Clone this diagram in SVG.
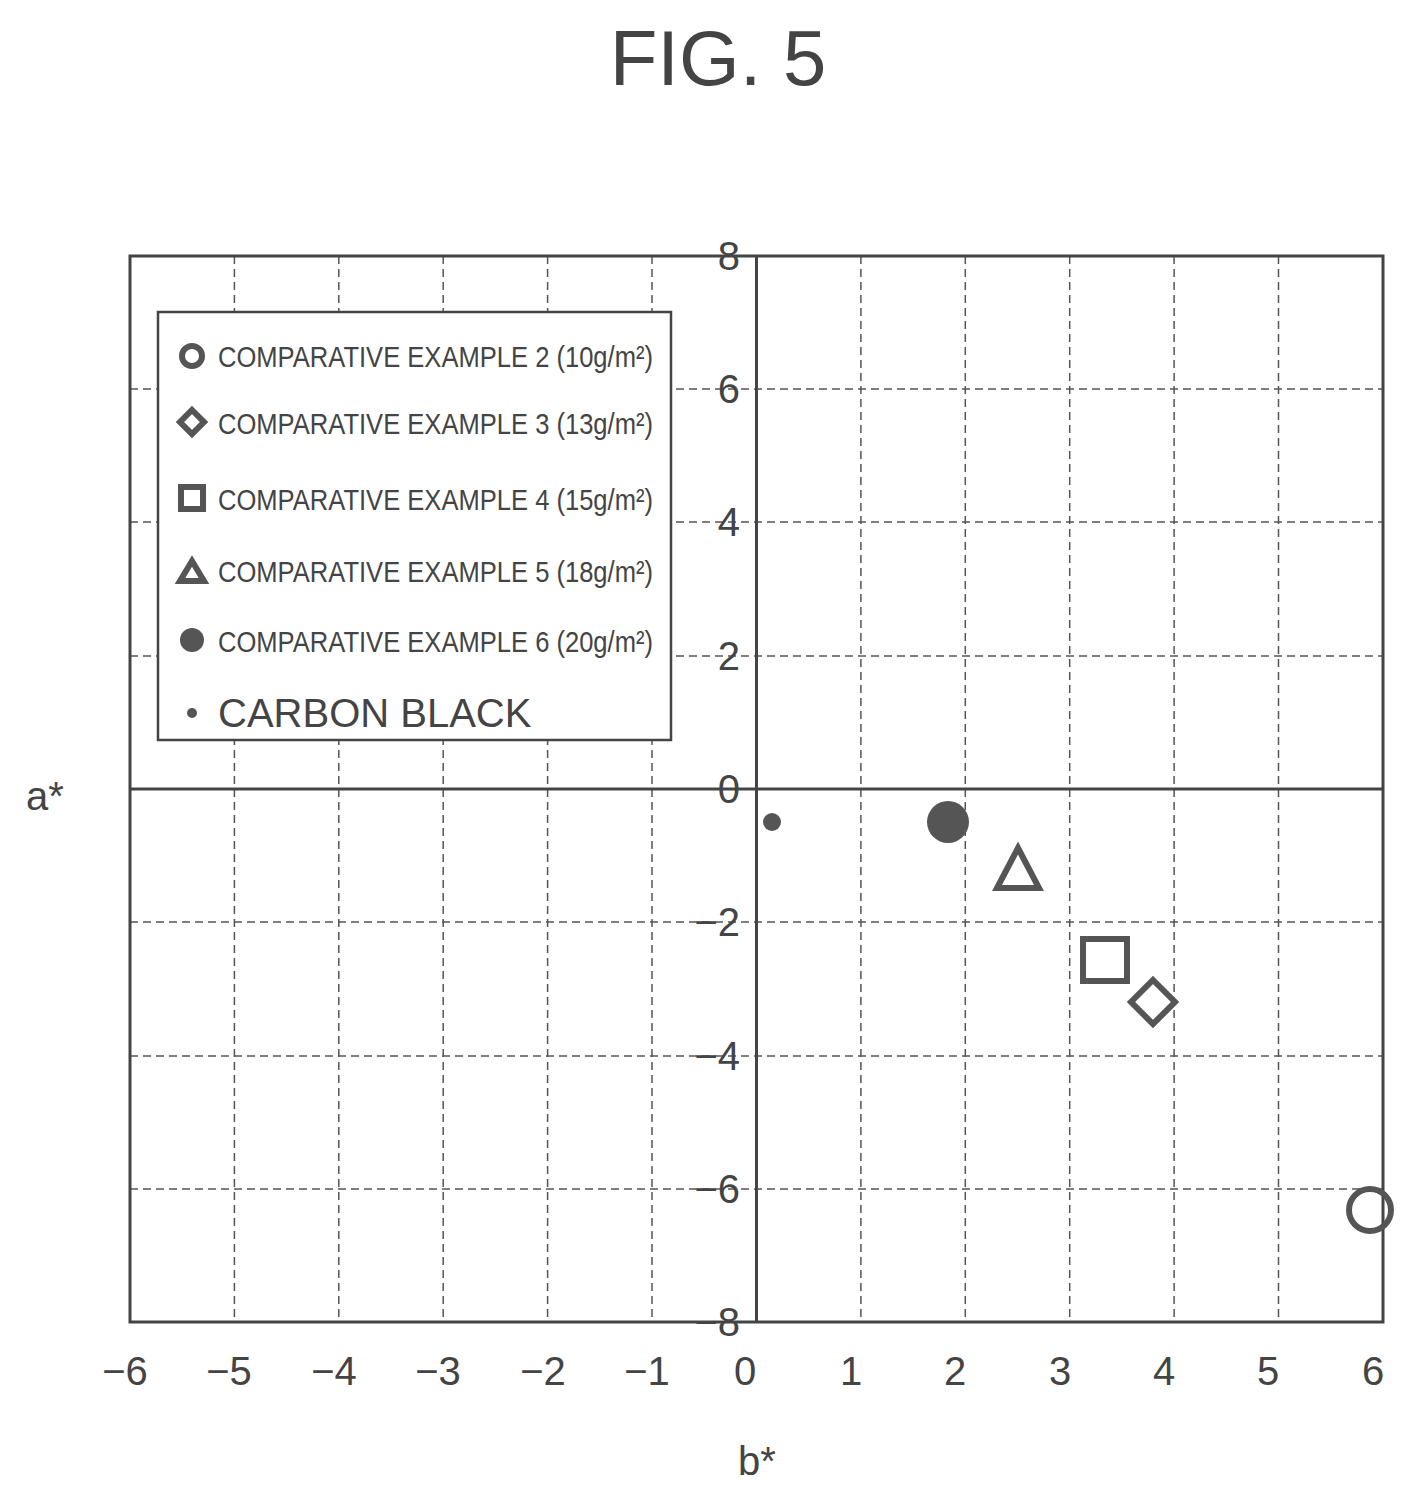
<svg xmlns="http://www.w3.org/2000/svg" width="1416" height="1504" viewBox="0 0 1416 1504">
<style>
text{font-family:"Liberation Sans",Arial,sans-serif;fill:#444}
.g{stroke:#555;stroke-width:1.5;stroke-dasharray:8,5;fill:none}
.ax{stroke:#444;stroke-width:3;fill:none}
.tk{font-size:40px;text-anchor:middle}
.ty{font-size:40px;text-anchor:end}
.lg{font-size:30px}
.m{fill:none;stroke:#555;stroke-width:6}
</style>
<rect width="1416" height="1504" fill="#fff"/>
<text x="718" y="85" font-size="78" text-anchor="middle">FIG. 5</text>
<g id="grid">
<path class="g" d="M234.4 256V1322M338.8 256V1322M443.2 256V1322M547.6 256V1322M652 256V1322M860.9 256V1322M965.3 256V1322M1069.7 256V1322M1174.1 256V1322M1278.5 256V1322"/>
<path class="g" d="M130 389H1383M130 522H1383M130 656H1383M130 922H1383M130 1056H1383M130 1189H1383"/>
<rect class="ax" x="130" y="256" width="1253" height="1066"/>
<path class="ax" d="M756.5 256V1322M130 789H1383"/>
</g>
<g id="yticks">
<text class="ty" x="740" y="270">8</text><text class="ty" x="740" y="403">6</text><text class="ty" x="740" y="536">4</text><text class="ty" x="740" y="670">2</text><text class="ty" x="740" y="803">0</text><text class="ty" x="740" y="936">−2</text><text class="ty" x="740" y="1070">−4</text><text class="ty" x="740" y="1203">−6</text><text class="ty" x="740" y="1336">−8</text>
</g>
<g id="xticks">
<text class="tk" x="125" y="1385">−6</text><text class="tk" x="229" y="1385">−5</text><text class="tk" x="334" y="1385">−4</text><text class="tk" x="438" y="1385">−3</text><text class="tk" x="543" y="1385">−2</text><text class="tk" x="647" y="1385">−1</text><text class="tk" x="745" y="1385">0</text><text class="tk" x="851" y="1385">1</text><text class="tk" x="955" y="1385">2</text><text class="tk" x="1060" y="1385">3</text><text class="tk" x="1164" y="1385">4</text><text class="tk" x="1268" y="1385">5</text><text class="tk" x="1373" y="1385">6</text>
</g>
<text x="45" y="810" font-size="40" text-anchor="middle">a*</text>
<text x="757" y="1475" font-size="40" text-anchor="middle">b*</text>
<g id="legend">
<rect x="158" y="312" width="513" height="428" fill="#fff" stroke="#444" stroke-width="2.5"/>
<circle cx="192" cy="356" r="10" class="m" stroke-width="4"/>
<path d="M192 410L204 422L192 434L180 422Z" class="m" stroke-width="4"/>
<rect x="181" y="487" width="22" height="22" class="m" stroke-width="4"/>
<path d="M192 561L204 581L180 581Z" class="m" stroke-width="4"/>
<circle cx="192" cy="640" r="12" fill="#555"/>
<circle cx="192" cy="713" r="5" fill="#555"/>
<g class="lg" transform="translate(218,0)">
<text x="0" y="367" textLength="435" lengthAdjust="spacingAndGlyphs">COMPARATIVE EXAMPLE 2 (10g/m²)</text>
<text x="0" y="434" textLength="435" lengthAdjust="spacingAndGlyphs">COMPARATIVE EXAMPLE 3 (13g/m²)</text>
<text x="0" y="510" textLength="435" lengthAdjust="spacingAndGlyphs">COMPARATIVE EXAMPLE 4 (15g/m²)</text>
<text x="0" y="582" textLength="435" lengthAdjust="spacingAndGlyphs">COMPARATIVE EXAMPLE 5 (18g/m²)</text>
<text x="0" y="652" textLength="435" lengthAdjust="spacingAndGlyphs">COMPARATIVE EXAMPLE 6 (20g/m²)</text>
<text x="0" y="727" font-size="40">CARBON BLACK</text>
</g>
</g>
<g id="points">
<circle cx="772" cy="822" r="9" fill="#555"/>
<circle cx="948" cy="822" r="21" fill="#555"/>
<path d="M1018 848L1039 888L997 888Z" class="m"/>
<rect x="1083" y="939" width="44" height="42" class="m"/>
<path d="M1153 980L1175 1002L1153 1024L1131 1002Z" class="m"/>
<circle cx="1370" cy="1210" r="21" class="m"/>
</g>
</svg>
